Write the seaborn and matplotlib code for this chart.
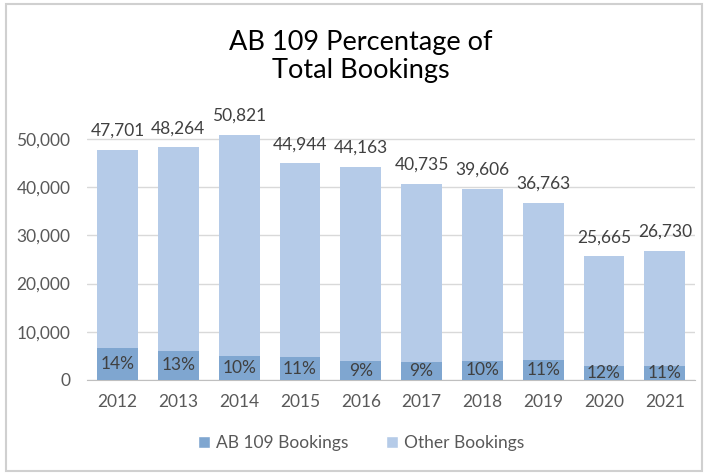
import numpy as np
import pandas as pd
import matplotlib.pyplot as plt
import seaborn as sns
from matplotlib.patches import Patch, Rectangle

years = ['2012', '2013', '2014', '2015', '2016', '2017', '2018', '2019', '2020', '2021']
totals = [47701, 48264, 50821, 44944, 44163, 40735, 39606, 36763, 25665, 26730]
ab109 = [6650, 6050, 5000, 4750, 3900, 3750, 3950, 4050, 3000, 2850]
pct_labels = ['14%', '13%', '10%', '11%', '9%', '9%', '10%', '11%', '12%', '11%']

df = pd.DataFrame({'year': years, 'total': totals, 'ab109': ab109})
df['other'] = df['total'] - df['ab109']

sns.set_style('white')
plt.rcParams['font.family'] = ['Lato', 'DejaVu Sans']

dark = '#7fa6d0'
light = '#b5cbe8'
txt = '#404040'
grey = '#595959'

fig = plt.figure(figsize=(7.08, 4.75), dpi=100)
ax = fig.add_axes([0.123, 0.2, 0.859, 0.558])

sns.barplot(data=df, x='year', y='total', color=light, width=0.67,
            saturation=1, linewidth=0, ax=ax, zorder=2)
sns.barplot(data=df, x='year', y='ab109', color=dark, width=0.67,
            saturation=1, linewidth=0, ax=ax, zorder=3)

# totals above, share of AB 109 inside the dark part
for i, t in enumerate(totals):
    ax.text(i, t + 2300, f'{t:,}', ha='center', va='bottom', fontsize=12.5, color=txt)
for i, (a, p) in enumerate(zip(ab109, pct_labels)):
    ax.text(i, a / 2, p, ha='center', va='center', fontsize=12.5, color=txt, zorder=4)

ax.set_ylim(0, 55000)
ax.set_xlim(-0.5, len(years) - 0.5)
ax.set_yticks(range(0, 50001, 10000))
ax.yaxis.set_major_formatter(plt.FuncFormatter(lambda v, _: f'{int(v):,}'))
ax.yaxis.grid(True, color='#d9d9d9', linewidth=1, zorder=0)
ax.set_axisbelow(True)
ax.tick_params(axis='both', length=0, labelsize=12.5, labelcolor=grey)
ax.tick_params(axis='y', pad=12)
ax.tick_params(axis='x', pad=10)
ax.set_xlabel('')
ax.set_ylabel('')
for s in ['top', 'right', 'left']:
    ax.spines[s].set_visible(False)
ax.spines['bottom'].set_color('#bfbfbf')

fig.text(0.51, 0.825, 'AB 109 Percentage of\nTotal Bookings', ha='center', va='bottom',
         fontsize=19.5, color='#000000', linespacing=1.15)

handles = [Patch(facecolor=dark, label='AB 109 Bookings'),
           Patch(facecolor=light, label='Other Bookings')]
fig.legend(handles=handles, loc='center', bbox_to_anchor=(0.51, 0.067), ncol=2,
           frameon=False, fontsize=12.5, handlelength=0.7, handleheight=0.7,
           handletextpad=0.3, columnspacing=2.2, labelcolor=grey)

fig.patches.append(Rectangle((0.008, 0.008), 0.984, 0.984, transform=fig.transFigure,
                             fill=False, edgecolor='#d0d0d0', linewidth=1.5))

fig.savefig('out.png', dpi=100)
